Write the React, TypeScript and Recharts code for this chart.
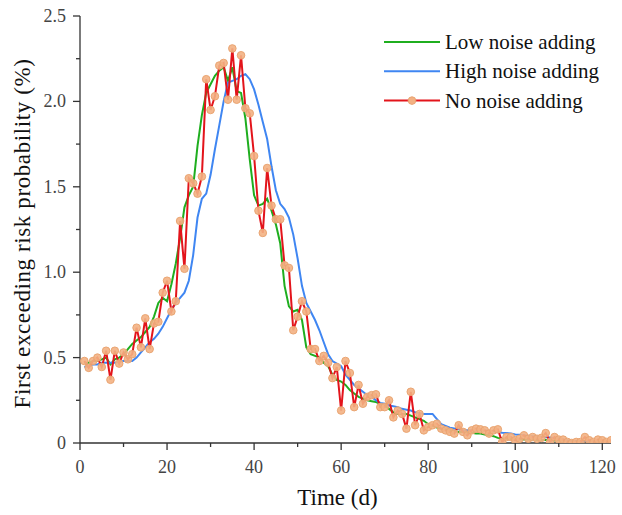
import React from 'react';
import { LineChart, Line, XAxis, YAxis } from 'recharts';

const days: number[] = Array.from({ length: 122 }, (_, i) => i + 1);

const noNoise: number[] = [
  0.48, 0.44, 0.48, 0.5, 0.445, 0.54, 0.37, 0.54, 0.465, 0.53,
  0.49, 0.52, 0.675, 0.56, 0.73, 0.55, 0.7, 0.71, 0.88, 0.95,
  0.77, 0.83, 1.3, 1.02, 1.55, 1.52, 1.46, 1.56, 2.13, 1.95,
  2.03, 2.21, 2.225, 2.01, 2.31, 2.01, 2.27, 1.96, 1.93, 1.68,
  1.36, 1.23, 1.61, 1.39, 1.31, 1.31, 1.04, 1.025, 0.66, 0.74,
  0.83, 0.77, 0.55, 0.55, 0.48, 0.51, 0.47, 0.38, 0.445, 0.19,
  0.48, 0.41, 0.21, 0.34, 0.23, 0.27, 0.28, 0.285, 0.21, 0.21,
  0.25, 0.15, 0.19, 0.17, 0.084, 0.3, 0.104, 0.17, 0.074, 0.094,
  0.104, 0.113, 0.084, 0.074, 0.065, 0.055, 0.104, 0.065, 0.045, 0.074,
  0.084, 0.08, 0.074, 0.055, 0.074, 0.08, 0.006, 0.035, 0.035, 0.016,
  0.025, 0.045, 0.025, 0.035, 0.025, 0.03, 0.058, 0.006, 0.035, 0.02,
  0.02, 0.006, 0.0, 0.006, 0.006, 0.035, 0.016, 0.006, 0.02, 0.016,
  0.006, 0.016,
];

const lowNoise: number[] = [
  0.47, 0.47, 0.48, 0.48, 0.49, 0.5, 0.46, 0.49, 0.5, 0.52,
  0.55, 0.58, 0.6, 0.62, 0.65, 0.68, 0.74, 0.82, 0.85, 0.83,
  0.93, 1.05, 1.2, 1.38, 1.45, 1.5, 1.74, 1.92, 2.05, 2.1,
  2.15, 2.18, 2.2, 2.12, 2.2, 2.06, 2.05, 1.9, 1.66, 1.45,
  1.39, 1.4, 1.43, 1.36, 1.28, 1.17, 0.92, 0.8, 0.77, 0.78,
  0.72, 0.56, 0.52, 0.51, 0.5, 0.47, 0.45, 0.4, 0.37, 0.36,
  0.34, 0.31, 0.29, 0.27, 0.26, 0.25, 0.245, 0.24, 0.23, 0.22,
  0.2, 0.18, 0.17, 0.17, 0.17, 0.16, 0.15, 0.14, 0.13, 0.11,
  0.1, 0.09, 0.084, 0.08, 0.075, 0.07, 0.065, 0.065, 0.06, 0.06,
  0.055, 0.055, 0.05, 0.045, 0.04, 0.03, 0.026, 0.025, 0.024, 0.022,
  0.022, 0.02, 0.02, 0.02, 0.018, 0.018, 0.017, 0.016, 0.015, 0.015,
  0.014, 0.013, 0.012, 0.012, 0.011, 0.011, 0.01, 0.01, 0.01, 0.01,
  0.01, 0.01,
];

const highNoise: number[] = [
  0.445, 0.45, 0.46, 0.46, 0.47, 0.47, 0.47, 0.47, 0.475, 0.48,
  0.48, 0.48, 0.5, 0.53, 0.56, 0.59, 0.61, 0.64, 0.68, 0.73,
  0.78, 0.82, 0.85, 0.88, 0.95, 1.1, 1.32, 1.43, 1.46, 1.57,
  1.72, 1.86, 2.0, 2.11, 2.12, 2.13, 2.15, 2.16, 2.13, 2.07,
  1.98, 1.88, 1.78, 1.62, 1.48, 1.4, 1.37, 1.32, 1.22, 1.08,
  0.92, 0.82, 0.77, 0.72, 0.66, 0.59, 0.52, 0.48, 0.465, 0.45,
  0.4, 0.37, 0.34, 0.32, 0.3, 0.28, 0.27, 0.25, 0.235, 0.23,
  0.22, 0.215, 0.21, 0.2, 0.195, 0.19, 0.18, 0.175, 0.17, 0.17,
  0.17, 0.14, 0.11, 0.1, 0.09, 0.085, 0.08, 0.075, 0.075, 0.074,
  0.074, 0.074, 0.074, 0.07, 0.068, 0.065, 0.06, 0.058, 0.055, 0.05,
  0.048, 0.045, 0.042, 0.04, 0.038, 0.036, 0.034, 0.032, 0.03, 0.03,
  0.02, 0.015, 0.01, 0.01, 0.01, 0.01, 0.01, 0.01, 0.01, 0.01,
  0.01, 0.01,
];

const xTicks: number[] = [0, 10, 20, 30, 40, 50, 60, 70, 80, 90, 100, 110, 120];
const xMajor: number[] = [0, 20, 40, 60, 80, 100, 120];
const yTicks: number[] = [0, 0.25, 0.5, 0.75, 1.0, 1.25, 1.5, 1.75, 2.0, 2.25, 2.5];
const yMajor: number[] = [0, 0.5, 1.0, 1.5, 2.0, 2.5];

const seriesNames = ['Low noise adding', 'High noise adding', 'No noise adding'];
const seriesColors = ['#1fae1f', '#3f86f2', '#e3141b'];
const xTitle = 'Time (d)';
const yTitle = 'First exceeding risk probability (%)';

const data = days.map((d, i) => ({
  day: d,
  low: lowNoise[i],
  high: highNoise[i],
  none: noNoise[i],
}));

const FONT = '"Liberation Serif", "Times New Roman", serif';
const AXIS = '#333';

const XTick = (props: any) => {
  const { x, y, payload } = props;
  const v = payload.value;
  const major = xMajor.includes(v);
  return (
    <g>
      <line x1={x} y1={y} x2={x} y2={y + (major ? 7 : 4)} stroke={AXIS} strokeWidth={1.3} />
      {major && (
        <text x={x} y={y + 30} textAnchor="middle" fontFamily={FONT} fontSize={18} fill="#444">
          {v}
        </text>
      )}
    </g>
  );
};

const YTick = (props: any) => {
  const { x, y, payload } = props;
  const v = payload.value;
  const major = yMajor.some((m) => Math.abs(m - v) < 1e-9);
  return (
    <g>
      <line x1={x} y1={y} x2={x - (major ? 7 : 4)} y2={y} stroke={AXIS} strokeWidth={1.3} />
      {major && (
        <text x={x - 14} y={y + 6} textAnchor="end" fontFamily={FONT} fontSize={18} fill="#444">
          {v === 0 ? '0' : v.toFixed(1)}
        </text>
      )}
    </g>
  );
};

const XTitle = (props: any) => {
  const vb = props.viewBox || { x: 80, y: 443, width: 531, height: 60 };
  return (
    <text
      x={vb.x + vb.width / 2 - 8}
      y={vb.y + 62}
      textAnchor="middle"
      fontFamily={FONT}
      fontSize={23}
      fill="#111"
    >
      {xTitle}
    </text>
  );
};

const YTitle = (props: any) => {
  const vb = props.viewBox || { x: 0, y: 16, width: 80, height: 427 };
  const cx = vb.x + 22.5;
  const cy = vb.y + vb.height / 2 + 4;
  return (
    <text
      x={cx}
      y={cy}
      transform={`rotate(-90 ${cx} ${cy})`}
      textAnchor="middle"
      dominantBaseline="central"
      fontFamily={FONT}
      fontSize={23}
      letterSpacing={0.6}
      fill="#111"
    >
      {yTitle}
    </text>
  );
};

const LegendBox = () => (
  <svg
    width={240}
    height={90}
    style={{ position: 'absolute', left: 380, top: 28 }}
  >
    {seriesNames.map((name, i) => {
      const cy = 14 + i * 29.3;
      return (
        <g key={name}>
          <line x1={4} y1={cy} x2={60} y2={cy} stroke={seriesColors[i]} strokeWidth={2} />
          {i === 2 && (
            <circle cx={32} cy={cy} r={3.8} fill="#f3b183" stroke="#eaa572" strokeWidth={1} />
          )}
          <text x={65} y={cy + 7} fontFamily={FONT} fontSize={21} fill="#111">
            {name}
          </text>
        </g>
      );
    })}
  </svg>
);

export default function App() {
  return (
    <div style={{ position: 'absolute', left: 0, top: 0, width: 622, height: 515, background: '#fff' }}>
      <LineChart
        width={622}
        height={515}
        data={data}
        margin={{ top: 16, right: 11, bottom: 12, left: 0 }}
      >
        <XAxis
          dataKey="day"
          type="number"
          domain={[0, 122]}
          ticks={xTicks}
          interval={0}
          allowDataOverflow
          tickSize={0}
          tickMargin={0}
          tickLine={false}
          tick={<XTick />}
          height={60}
          axisLine={{ stroke: AXIS, strokeWidth: 1.3 }}
          label={<XTitle />}
        />
        <YAxis
          type="number"
          domain={[0, 2.5]}
          ticks={yTicks}
          interval={0}
          allowDataOverflow
          tickSize={0}
          tickMargin={0}
          tickLine={false}
          tick={<YTick />}
          width={80}
          axisLine={{ stroke: AXIS, strokeWidth: 1.3 }}
          label={<YTitle />}
        />
        <Line
          type="linear"
          dataKey="low"
          name={seriesNames[0]}
          stroke={seriesColors[0]}
          strokeWidth={2}
          dot={false}
          isAnimationActive={false}
        />
        <Line
          type="linear"
          dataKey="high"
          name={seriesNames[1]}
          stroke={seriesColors[1]}
          strokeWidth={2}
          dot={false}
          isAnimationActive={false}
        />
        <Line
          type="linear"
          dataKey="none"
          name={seriesNames[2]}
          stroke={seriesColors[2]}
          strokeWidth={2}
          dot={{ r: 3.8, fill: '#f3b183', stroke: '#eaa572', strokeWidth: 1, fillOpacity: 0.9 }}
          isAnimationActive={false}
        />
      </LineChart>
      <LegendBox />
    </div>
  );
}
